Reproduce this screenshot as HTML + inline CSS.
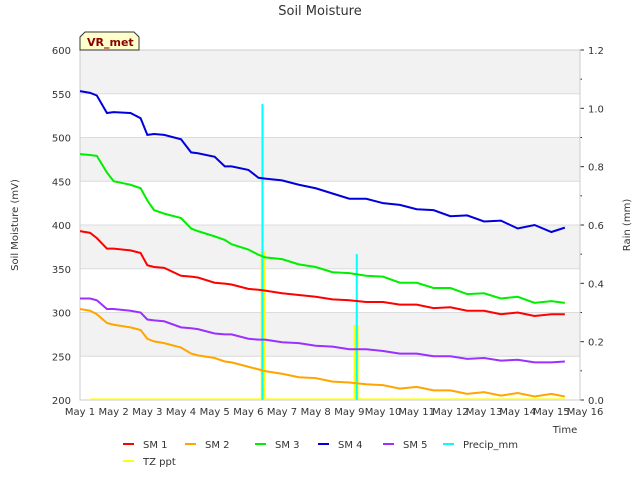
<!DOCTYPE html>
<html><head><meta charset="utf-8"><style>
body{margin:0;background:#fff;font-family:"Liberation Sans","DejaVu Sans",sans-serif;}
svg text{font-family:"DejaVu Sans","Liberation Sans",sans-serif;}
</style></head><body>
<svg id="c" width="640" height="480" xmlns="http://www.w3.org/2000/svg"></svg>
<script>
const times=[1,1.3,1.5,1.8,2,2.5,2.8,3,3.2,3.5,4,4.3,4.5,5,5.3,5.5,6,6.3,6.5,7,7.5,8,8.5,9,9.5,10,10.5,11,11.5,12,12.5,13,13.5,14,14.5,15,15.4];
const sm1=[393,391,385,373,373,371,368,354,352,351,342,341,340,334,333,332,327,326,325,322,320,318,315,314,312,312,309,309,305,306,302,302,298,300,296,298,298];
const sm2=[304,302,298,288,286,283,280,270,267,265,260,253,251,248,244,243,238,235,233,230,226,225,221,220,218,217,213,215,211,211,207,209,205,208,204,207,204];
const sm3=[481,480,479,460,450,446,442,428,417,413,408,396,393,387,383,378,372,366,363,361,355,352,346,345,342,341,334,334,328,328,321,322,316,318,311,313,311];
const sm4=[553,551,548,528,529,528,522,503,504,503,498,483,482,478,467,467,463,454,453,451,446,442,436,430,430,425,423,418,417,410,411,404,405,396,400,392,397];
const sm5=[316,316,314,304,304,302,300,292,291,290,283,282,281,276,275,275,270,269,269,266,265,262,261,258,258,256,253,253,250,250,247,248,245,246,243,243,244];
const precipT=[6.42,9.22];const precipV=[1.015,0.5];
const tzT=[6.44,9.2];const tzV=[0.51,0.257];
const xTicks=[1,2,3,4,5,6,7,8,9,10,11,12,13,14,15,16];
const yTicks=[200,250,300,350,400,450,500,550,600];
const y2Ticks=[0,0.2,0.4,0.6,0.8,1.0,1.2];
const NS="http://www.w3.org/2000/svg",svg=document.getElementById('c');
const L=80,R=580,T=50,B=400;
const X=d=>L+(d-1)*33.67, Y=v=>B-(v-200)/400*(B-T), Y2=v=>B-v/1.2*(B-T);
function mk(t,a,p){const e=document.createElementNS(NS,t);for(const k in a)e.setAttribute(k,a[k]);(p||svg).appendChild(e);return e;}
for(let v=250;v<600;v+=100){const r=mk('rect',{x:L,y:Y(v+50),width:R-L,height:Y(v)-Y(v+50),fill:'#f2f2f2'});

}
yTicks.forEach(v=>{const l=mk('line',{x1:L,x2:R,y1:Y(v),y2:Y(v),stroke:'#dcdcdc','stroke-width':1});


const t=mk('text',{x:L-9,y:Y(v)+4,'text-anchor':'end','font-size':10,fill:'#333'});t.textContent=v;

});
y2Ticks.forEach(v=>{const t=mk('text',{x:R+8,y:Y2(v)+4,'font-size':10,fill:'#333'});t.textContent=v.toFixed(1);


mk('line',{x1:R,x2:R+4,y1:Y2(v),y2:Y2(v),stroke:'#333'});
if(v<1.2)mk('line',{x1:R,x2:R+2,y1:Y2(v+0.1),y2:Y2(v+0.1),stroke:'#333'});});
xTicks.forEach(d=>{const t=mk('text',{x:X(d),y:B+15,'text-anchor':'middle','font-size':10,fill:'#333'});t.textContent='May '+d;

});
mk('rect',{x:L,y:T,width:R-L,height:B-T,fill:'none',stroke:'#ccc'});
mk('line',{x1:X(1.3),x2:X(15.4),y1:B-1,y2:B-1,stroke:'#ffff33','stroke-width':1.5});
tzT.forEach((d,i)=>{const r=mk('rect',{x:X(d)-2.5,y:Y2(tzV[i]),width:5,height:B-Y2(tzV[i]),fill:'#ffff00'});

});
precipT.forEach((d,i)=>{const r=mk('rect',{x:X(d)-1,y:Y2(precipV[i]),width:2,height:B-Y2(precipV[i]),fill:'#00ffff'});

});
const series=[[sm1,'#ff0000','sm1-line'],[sm2,'#ffa500','sm2-line'],[sm3,'#00ee00','sm3-line'],[sm4,'#0000dd','sm4-line'],[sm5,'#9b30ff','sm5-line']];
series.forEach(([vals,c,n])=>{const p=mk('polyline',{points:vals.map((v,i)=>X(times[i])+','+Y(v)).join(' '),fill:'none',stroke:c,'stroke-width':2});

});
function txt(x,y,s,a,n){const t=mk('text',Object.assign({x:x,y:y,fill:'#333'},a));t.textContent=s;

return t;}
txt(320,15,'Soil Moisture',{'text-anchor':'middle','font-size':13},'chart-title');
txt(565,433,'Time',{'text-anchor':'middle','font-size':10},'x-axis-title');
txt(18,225,'Soil Moisture (mV)',{'text-anchor':'middle','font-size':10,transform:'rotate(-90 18 225)'},'y-axis-title');
txt(630,225,'Rain (mm)',{'text-anchor':'middle','font-size':10,transform:'rotate(-90 630 225)'},'y2-axis-title');
mk('path',{d:'M80,50 L80,37 L85,32 L134,32 L139,37 L139,50 Z',fill:'#ffffcc',stroke:'#333'});
txt(87,46,'VR_met',{'font-size':11,'font-weight':'bold',fill:'#8b0000'},'station-label');
const leg=[['SM 1','#ff0000',123,444],['SM 2','#ffa500',185,444],['SM 3','#00ee00',255,444],['SM 4','#0000dd',318,444],['SM 5','#9b30ff',383,444],['Precip_mm','#00ffff',443,444],['TZ ppt','#ffff00',123,461]];
leg.forEach(([s,c,x,y])=>{const g=mk('g',{});


mk('line',{x1:x,x2:x+11,y1:y,y2:y,stroke:c,'stroke-width':2},g);
const t=mk('text',{x:x+20,y:y+4,'font-size':10,fill:'#333'},g);t.textContent=s;});
</script>
</body></html>
